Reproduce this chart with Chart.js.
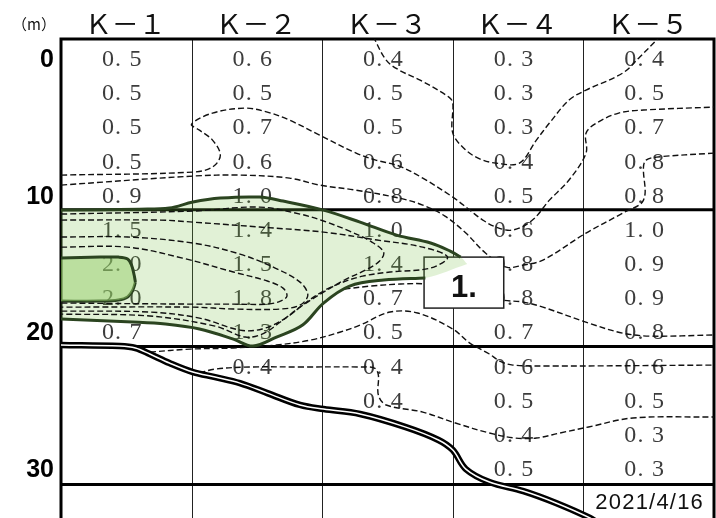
<!DOCTYPE html>
<html>
<head>
<meta charset="utf-8">
<script src="https://cdn.jsdelivr.net/npm/chart.js@4.4.1/dist/chart.umd.min.js"></script>
<style>
  html, body { margin: 0; padding: 0; background: #fff; }
  #wrap { width: 716px; height: 518px; }
</style>
</head>
<body>
<div id="wrap"><canvas id="profileChart"></canvas></div>
<script>
// section profile K-1 .. K-5, readings every 2.5 m of depth

var stations = ['Ｋ－１', 'Ｋ－２', 'Ｋ－３', 'Ｋ－４', 'Ｋ－５'];
var depthStep = 2.5;
var depthTicks = [0, 10, 20, 30];
var layerDepths = [11.1, 21.1, 31.2];
var surveyDate = '2021/4/16';
var boxLabel = '1.';

var k1Values = [0.5, 0.5, 0.5, 0.5, 0.9, 1.5, 2.0, 2.0, 0.7];
var k2Values = [0.6, 0.5, 0.7, 0.6, 1.0, 1.4, 1.5, 1.8, 1.3, 0.4];
var k3Values = [0.4, 0.5, 0.5, 0.6, 0.8, 1.0, 1.4, 0.7, 0.5, 0.4, 0.4];
var k4Values = [0.3, 0.3, 0.3, 0.4, 0.5, 0.6, 0.8, 0.8, 0.7, 0.6, 0.5, 0.4, 0.5];
var k5Values = [0.4, 0.5, 0.7, 0.8, 0.8, 1.0, 0.9, 0.9, 0.8, 0.6, 0.5, 0.3, 0.3];

// contour lines, [station position, depth]
var contour04Upper = [[2.39,-1.6],[2.49,0.15],[2.59,0.88],[2.75,1.61],[2.97,2.85],[3.00,3.29],[3.00,5.49],[3.10,6.73],[3.21,7.39],[3.33,7.68],[3.51,7.68],[3.64,6.00],[3.74,4.75],[3.89,3.07],[4.02,2.34],[4.30,1.10],[4.43,-0.07],[4.56,-1.32],[4.60,-1.7]];
var contour06Upper = [[0,8.56],[1.01,8.34],[1.16,7.97],[1.22,7.10],[1.16,6.00],[1.06,5.27],[1.00,4.83],[1.16,4.02],[1.41,3.66],[1.58,3.95],[1.75,4.54],[1.98,5.63],[2.26,6.95],[2.41,7.46],[2.59,7.90],[2.77,8.78],[3.00,10.17],[3.13,11.12],[3.23,11.85],[3.33,12.36],[3.46,12.58],[3.61,11.85],[3.74,10.39],[3.89,8.92],[4.02,6.95],[4.02,5.49],[4.10,4.75],[4.27,4.02],[4.46,3.80],[5.0,3.58]];
var contour08Upper = [[0,9.29],[1.01,8.63],[1.37,8.56],[1.75,8.78],[1.98,9.29],[2.26,9.66],[2.59,10.24],[2.77,10.75],[2.94,11.56],[3.10,12.80],[3.25,14.26],[3.41,15.29],[3.54,15.14],[3.69,14.78],[4.02,12.80],[4.30,11.34],[4.46,10.39],[4.46,7.97],[4.48,7.46],[4.56,7.24],[5.0,6.95]];
var contour08Lower = [[2.17,16.90],[2.37,16.68],[2.60,16.53],[2.79,16.53],[3.06,16.97],[3.38,17.70],[3.54,17.85],[3.69,18.22],[4.04,19.39],[4.30,20.12],[4.51,20.34],[5.0,20.26]];
var contour06Lower = [[0.68,21.51],[0.99,21.29],[1.32,21.21],[1.65,20.99],[1.91,20.63],[2.14,20.04],[2.29,19.53],[2.52,18.58],[2.73,18.65],[3.00,19.82],[3.13,20.85],[3.28,21.65],[3.36,22.17],[3.46,22.46],[3.74,22.53],[5.0,22.46]];
var contour04Lower = [[1.06,23.04],[1.18,22.75],[1.45,22.60],[1.83,22.60],[2.29,22.60],[2.40,22.68],[2.43,23.19],[2.43,24.65],[2.49,25.38],[2.77,25.90],[3.02,26.70],[3.28,27.43],[3.48,27.80],[3.64,27.80],[3.82,27.43],[4.04,26.99],[4.38,26.33],[5.0,26.26]];

// inside the >= 1.0 zone
var contour12 = [[0,11.41],[1.01,11.19],[1.52,10.90],[1.83,11.41],[2.01,11.92],[2.21,12.66],[2.38,13.46],[2.47,14.19],[2.44,14.85],[2.33,15.51],[2.17,16.24],[2.01,17.12],[1.83,18.22],[1.68,19.31],[1.54,20.19],[1.41,20.41],[1.18,19.61],[0.68,18.87],[0,18.73]];
var contour14 = [[0,11.85],[0.76,11.85],[1.01,12.00],[1.52,12.36],[2.01,12.73],[2.42,13.31],[2.77,13.83],[2.96,14.56],[2.83,15.36],[2.52,15.65],[2.31,15.95],[2.14,16.46],[2.01,17.04],[1.87,17.92],[1.72,19.02],[1.54,19.82],[1.37,19.90],[1.06,19.02],[0.68,18.58],[0,18.51]];
var contour16 = [[0,13.09],[0.51,13.09],[1.01,13.53],[1.37,14.34],[1.64,15.36],[1.83,16.39],[1.89,17.34],[1.83,18.07],[1.68,18.36],[1.32,18.36],[1.01,18.22],[0,18.22]];
var contour18 = [[0,13.83],[0.51,13.83],[0.93,14.63],[1.32,15.65],[1.58,16.31],[1.70,16.83],[1.73,17.41],[1.68,17.78],[1.58,18.00],[1.32,18.00],[1.01,18.00],[0,17.92]];

// zone >= 1.0 (upper and lower edge) and zone >= 2.0
var zone10Top = [[0,11.12],[0.60,11.05],[0.83,10.97],[1.01,10.53],[1.22,10.24],[1.52,10.17],[1.70,10.46],[2.01,11.12],[2.29,12.00],[2.57,12.95],[2.83,13.53],[2.98,14.12],[3.06,14.56],[3.11,15.07]];
var zone10Bottom = [[0,19.09],[0.55,19.31],[0.80,19.46],[1.06,19.82],[1.32,20.56],[1.47,21.07],[1.65,20.41],[1.85,19.53],[2.01,17.92],[2.21,16.68],[2.47,16.24],[2.79,16.09],[3.11,15.07]];
var zone20Top = [[0,14.63],[0.30,14.56],[0.44,14.56],[0.51,14.70],[0.54,15.14],[0.56,15.87],[0.57,16.39]];
var zone20Bottom = [[0,17.78],[0.30,17.78],[0.44,17.70],[0.51,17.48],[0.55,16.97],[0.57,16.39]];

// bedrock line
var bedrock = [[0,20.99],[0.45,21.07],[0.57,21.21],[0.68,21.65],[0.83,22.31],[1.01,22.97],[1.18,23.34],[1.37,23.78],[1.58,24.51],[1.83,25.38],[2.01,25.68],[2.29,26.04],[2.64,27.00],[2.89,27.94],[3.00,28.68],[3.10,30.07],[3.28,31.02],[3.54,31.68],[3.79,32.55],[4.05,33.65],[4.13,34.16]];

// label box corners [station, depth]
var labelBox = [[2.78, 14.56], [3.39, 18.29]];

function pts(arr) {
    return arr.map(function (p) { return { x: p[0], y: p[1] }; });
}

function dashed(arr, extra) {
    return Object.assign({
        data: pts(arr),
        borderColor: '#111',
        borderWidth: 1.4,
        borderDash: [6, 3],
        pointRadius: 0,
        tension: 0.35,
        fill: false,
        order: 50
    }, extra || {});
}

var darkGreen = '#2b4420';

var gridPlugin = {
    id: 'gridAndValues',
    beforeDatasetsDraw: function (chart) {
        var ctx = chart.ctx, a = chart.chartArea;
        var xs = chart.scales.x, ys = chart.scales.y;
        ctx.save();
        ctx.strokeStyle = '#222';
        ctx.lineWidth = 1;
        for (var i = 1; i < stations.length; i++) {
            var px = Math.round(xs.getPixelForValue(i)) + 0.5;
            ctx.beginPath(); ctx.moveTo(px, a.top); ctx.lineTo(px, a.bottom); ctx.stroke();
        }
        ctx.strokeStyle = '#000';
        ctx.lineWidth = 3;
        layerDepths.forEach(function (d) {
            var py = ys.getPixelForValue(d);
            ctx.beginPath(); ctx.moveTo(a.left, py); ctx.lineTo(a.right, py); ctx.stroke();
        });
        ctx.beginPath();
        ctx.moveTo(a.left, a.bottom); ctx.lineTo(a.left, a.top);
        ctx.lineTo(a.right, a.top); ctx.lineTo(a.right, a.bottom);
        ctx.stroke();

        // readings
        var columns = [k1Values, k2Values, k3Values, k4Values, k5Values];
        ctx.font = '24px "Liberation Serif"';
        ctx.letterSpacing = '1.2px';
        ctx.fillStyle = '#3c3c3c';
        ctx.textAlign = 'center';
        ctx.textBaseline = 'alphabetic';
        columns.forEach(function (vals, c) {
            vals.forEach(function (v, r) {
                var txt = v.toFixed(1).replace('.', '. ');
                ctx.fillText(txt, xs.getPixelForValue(c + 0.5) - 4, ys.getPixelForValue(r * depthStep) + 8);
            });
        });
        ctx.letterSpacing = '0px';
        ctx.restore();
    },
    afterDatasetDraw: function (chart, args) {
        if (!chart.data.datasets[args.index].boxAfter) return;
        var ctx = chart.ctx, xs = chart.scales.x, ys = chart.scales.y;
        var x1 = xs.getPixelForValue(labelBox[0][0]), x2 = xs.getPixelForValue(labelBox[1][0]);
        var y1 = ys.getPixelForValue(labelBox[0][1]), y2 = ys.getPixelForValue(labelBox[1][1]);
        ctx.save();
        ctx.fillStyle = '#fff';
        ctx.fillRect(x1, y1, x2 - x1, y2 - y1);
        ctx.strokeStyle = '#222';
        ctx.lineWidth = 1.5;
        ctx.strokeRect(x1, y1, x2 - x1, y2 - y1);
        ctx.restore();
    },
    afterDatasetsDraw: function (chart) {
        var ctx = chart.ctx, a = chart.chartArea;
        var xs = chart.scales.x, ys = chart.scales.y;
        ctx.save();
        ctx.fillStyle = '#111';

        // box label
        var bx = (xs.getPixelForValue(labelBox[0][0]) + xs.getPixelForValue(labelBox[1][0])) / 2;
        var by = (ys.getPixelForValue(labelBox[0][1]) + ys.getPixelForValue(labelBox[1][1])) / 2;
        ctx.font = 'bold 31px "Liberation Sans"';
        ctx.textAlign = 'center';
        ctx.textBaseline = 'alphabetic';
        ctx.fillText(boxLabel, bx, by + 14.5);

        // station names
        ctx.font = '27px "Noto Sans CJK JP"';
        stations.forEach(function (s, i) {
            ctx.fillText(s, xs.getPixelForValue(i + 0.5) - 1, a.top - 5);
        });
        ctx.font = '15px "Noto Sans CJK JP"';
        ctx.textBaseline = 'middle';
        ctx.fillText('（m）', a.left - 27, a.top - 15);

        // depth ticks
        ctx.font = 'bold 25px "Liberation Sans"';
        ctx.textAlign = 'right';
        ctx.textBaseline = 'alphabetic';
        ctx.fillStyle = '#000';
        depthTicks.forEach(function (d) {
            ctx.fillText(String(d), a.left - 7, ys.getPixelForValue(d) + 9);
        });

        // date in the bottom row
        ctx.font = '22px "Liberation Sans"';
        ctx.letterSpacing = '1.2px';
        ctx.textAlign = 'center';
        ctx.fillStyle = '#111';
        ctx.fillText(surveyDate, xs.getPixelForValue(stations.length - 0.5) + 1, ys.getPixelForValue(layerDepths[2]) + 24);
        ctx.letterSpacing = '0px';
        ctx.restore();
    }
};

document.addEventListener('DOMContentLoaded', function () {
    var ctx = document.getElementById('profileChart').getContext('2d');

    new Chart(ctx, {
        type: 'line',
        data: {
            datasets: [
                // 0,1: zone >= 1.0 fill
                { data: pts(zone10Top), borderWidth: 0, pointRadius: 0, tension: 0.35,
                  backgroundColor: 'rgba(120,190,70,0.22)', fill: 1, order: 40 },
                { data: pts(zone10Bottom), borderWidth: 0, pointRadius: 0, tension: 0.35,
                  fill: false, order: 40 },
                // 2,3: zone >= 2.0
                { data: pts(zone20Top), borderColor: darkGreen, borderWidth: 3, pointRadius: 0, tension: 0.35,
                  backgroundColor: 'rgba(150,205,105,0.5)', fill: 3, order: 34 },
                { data: pts(zone20Bottom), borderColor: darkGreen, borderWidth: 3, pointRadius: 0, tension: 0.35,
                  fill: false, order: 34 },
                // outline of zone >= 1.0 (stops at the label box)
                { data: pts(zone10Top.slice(0, -1)), borderColor: darkGreen, borderWidth: 3, pointRadius: 0,
                  tension: 0.35, fill: false, order: 30 },
                { data: pts(zone10Bottom.slice(0, -1)), borderColor: darkGreen, borderWidth: 3, pointRadius: 0,
                  tension: 0.35, fill: false, order: 30 },
                // outer contours
                dashed(contour04Upper),
                dashed(contour06Upper),
                dashed(contour08Upper),
                dashed(contour08Lower),
                dashed(contour06Lower),
                dashed(contour04Lower, { order: 45, boxAfter: true }),
                // contours inside the green zone
                dashed(contour12, { order: 20 }),
                dashed(contour14, { order: 20 }),
                dashed(contour16, { order: 20 }),
                dashed(contour18, { order: 20 }),
                // bedrock, black with white core
                { data: pts(bedrock), borderColor: '#000', borderWidth: 6.5, pointRadius: 0,
                  tension: 0.35, fill: false, order: 10 },
                { data: pts(bedrock), borderColor: '#fff', borderWidth: 1.5, pointRadius: 0,
                  tension: 0.35, fill: false, order: 5 }
            ]
        },
        options: {
            responsive: true,
            maintainAspectRatio: false,
            devicePixelRatio: 1,
            animation: false,
            layout: { padding: { left: 61, top: 39, right: 2, bottom: 0 } },
            scales: {
                x: { type: 'linear', min: 0, max: 5, display: false },
                y: { type: 'linear', min: -1.4, max: 33.65, reverse: true, display: false }
            },
            plugins: {
                legend: { display: false },
                tooltip: { enabled: false }
            }
        },
        plugins: [gridPlugin]
    });
});
</script>
</body>
</html>
